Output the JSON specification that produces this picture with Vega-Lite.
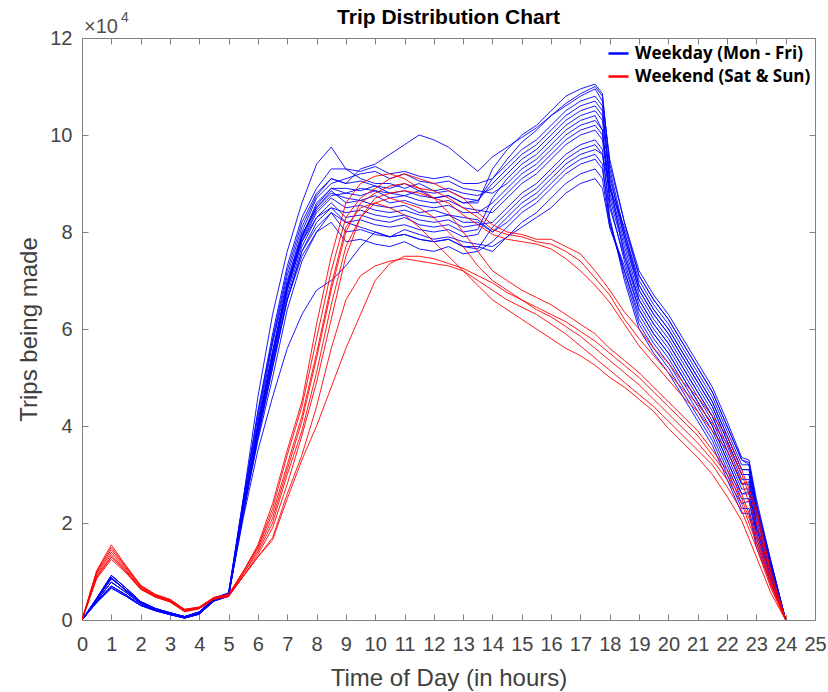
{
"$schema": "https://vega.github.io/schema/vega-lite/v6.json",
"width": 733, "height": 582,
"autosize": {"type": "none"},
"padding": {"left": 82, "top": 38, "right": 13, "bottom": 72},
"background": "white",
"title": {"text": "Trip Distribution Chart", "font": "Liberation Sans", "fontSize": 21, "fontWeight": "bold", "color": "#000000", "anchor": "middle", "offset": -17},
"config": {
  "view": {"stroke": null},
  "axis": {"grid": false, "labelFont": "Liberation Sans", "labelFontSize": 20, "labelColor": "#444444", "titleFont": "Liberation Sans", "titleFontSize": 24, "titleFontWeight": "normal", "titleColor": "#404040", "domainColor": "#808080", "tickColor": "#808080", "tickSize": -6, "domainWidth": 1, "tickWidth": 1, "labelOverlap": false, "labelFlush": false}
},
"datasets": {
"wd": [
{"s":1,"t":0,"v":0},{"s":1,"t":0.5,"v":4300},{"s":1,"t":1,"v":8500},{"s":1,"t":1.5,"v":6200},{"s":1,"t":2,"v":3600},{"s":1,"t":2.5,"v":2300},{"s":1,"t":3,"v":1400},{"s":1,"t":3.5,"v":600},{"s":1,"t":4,"v":1500},{"s":1,"t":4.5,"v":4300},{"s":1,"t":5,"v":5300},{"s":1,"t":5.5,"v":24000},{"s":1,"t":6,"v":43000},{"s":1,"t":6.5,"v":58000},{"s":1,"t":7,"v":72000},{"s":1,"t":7.5,"v":82000},{"s":1,"t":8,"v":88000},{"s":1,"t":8.5,"v":91000},{"s":1,"t":9,"v":90000},{"s":1,"t":9.5,"v":93000},{"s":1,"t":10,"v":94000},{"s":1,"t":10.5,"v":96000},{"s":1,"t":11,"v":98000},{"s":1,"t":11.5,"v":100000},{"s":1,"t":12,"v":99000},{"s":1,"t":12.5,"v":97500},{"s":1,"t":13,"v":95000},{"s":1,"t":13.5,"v":92500},{"s":1,"t":14,"v":95500},{"s":1,"t":14.5,"v":97500},{"s":1,"t":15,"v":99500},{"s":1,"t":15.5,"v":101500},{"s":1,"t":16,"v":104000},{"s":1,"t":16.5,"v":106000},{"s":1,"t":17,"v":108000},{"s":1,"t":17.5,"v":109500},{"s":1,"t":17.75,"v":107000},{"s":1,"t":18,"v":95000},{"s":1,"t":18.5,"v":82000},{"s":1,"t":19,"v":71000},{"s":1,"t":19.5,"v":66000},{"s":1,"t":20,"v":62000},{"s":1,"t":20.5,"v":57000},{"s":1,"t":21,"v":52000},{"s":1,"t":21.5,"v":47000},{"s":1,"t":22,"v":40000},{"s":1,"t":22.5,"v":33000},{"s":1,"t":22.75,"v":32500},{"s":1,"t":23,"v":24000},{"s":1,"t":23.5,"v":12000},{"s":1,"t":24,"v":0},
{"s":2,"t":0,"v":0},{"s":2,"t":0.5,"v":4000},{"s":2,"t":1,"v":7800},{"s":2,"t":1.5,"v":5700},{"s":2,"t":2,"v":3400},{"s":2,"t":2.5,"v":2100},{"s":2,"t":3,"v":1300},{"s":2,"t":3.5,"v":500},{"s":2,"t":4,"v":1400},{"s":2,"t":4.5,"v":4100},{"s":2,"t":5,"v":5100},{"s":2,"t":5.5,"v":22000},{"s":2,"t":6,"v":39000},{"s":2,"t":6.5,"v":54000},{"s":2,"t":7,"v":68000},{"s":2,"t":7.5,"v":78000},{"s":2,"t":8,"v":83000},{"s":2,"t":8.5,"v":85000},{"s":2,"t":9,"v":82000},{"s":2,"t":9.5,"v":81000},{"s":2,"t":10,"v":80000},{"s":2,"t":10.5,"v":79000},{"s":2,"t":11,"v":80500},{"s":2,"t":11.5,"v":79500},{"s":2,"t":12,"v":78500},{"s":2,"t":12.5,"v":79000},{"s":2,"t":13,"v":78000},{"s":2,"t":13.5,"v":77500},{"s":2,"t":14,"v":77000},{"s":2,"t":14.5,"v":79000},{"s":2,"t":15,"v":81000},{"s":2,"t":15.5,"v":83000},{"s":2,"t":16,"v":85000},{"s":2,"t":16.5,"v":88000},{"s":2,"t":17,"v":90000},{"s":2,"t":17.5,"v":91000},{"s":2,"t":17.75,"v":89000},{"s":2,"t":18,"v":81000},{"s":2,"t":18.5,"v":72000},{"s":2,"t":19,"v":63000},{"s":2,"t":19.5,"v":58000},{"s":2,"t":20,"v":54000},{"s":2,"t":20.5,"v":49000},{"s":2,"t":21,"v":44000},{"s":2,"t":21.5,"v":39000},{"s":2,"t":22,"v":32000},{"s":2,"t":22.5,"v":25000},{"s":2,"t":22.75,"v":25000},{"s":2,"t":23,"v":18000},{"s":2,"t":23.5,"v":9000},{"s":2,"t":24,"v":0},
{"s":3,"t":0,"v":0},{"s":3,"t":0.5,"v":4500},{"s":3,"t":1,"v":9200},{"s":3,"t":1.5,"v":6600},{"s":3,"t":2,"v":3800},{"s":3,"t":2.5,"v":2400},{"s":3,"t":3,"v":1500},{"s":3,"t":3.5,"v":700},{"s":3,"t":4,"v":1600},{"s":3,"t":4.5,"v":4400},{"s":3,"t":5,"v":5400},{"s":3,"t":5.5,"v":25000},{"s":3,"t":6,"v":46000},{"s":3,"t":6.5,"v":63000},{"s":3,"t":7,"v":76000},{"s":3,"t":7.5,"v":86000},{"s":3,"t":8,"v":94000},{"s":3,"t":8.5,"v":97500},{"s":3,"t":9,"v":93000},{"s":3,"t":9.5,"v":91000},{"s":3,"t":10,"v":90000},{"s":3,"t":10.5,"v":90000},{"s":3,"t":11,"v":89000},{"s":3,"t":11.5,"v":90000},{"s":3,"t":12,"v":88500},{"s":3,"t":12.5,"v":89000},{"s":3,"t":13,"v":88000},{"s":3,"t":13.5,"v":87500},{"s":3,"t":14,"v":89000},{"s":3,"t":14.5,"v":92000},{"s":3,"t":15,"v":95000},{"s":3,"t":15.5,"v":97000},{"s":3,"t":16,"v":100000},{"s":3,"t":16.5,"v":103000},{"s":3,"t":17,"v":105000},{"s":3,"t":17.5,"v":106000},{"s":3,"t":17.75,"v":104000},{"s":3,"t":18,"v":92000},{"s":3,"t":18.5,"v":79000},{"s":3,"t":19,"v":68000},{"s":3,"t":19.5,"v":63000},{"s":3,"t":20,"v":59000},{"s":3,"t":20.5,"v":54000},{"s":3,"t":21,"v":49000},{"s":3,"t":21.5,"v":44000},{"s":3,"t":22,"v":37000},{"s":3,"t":22.5,"v":30000},{"s":3,"t":22.75,"v":30000},{"s":3,"t":23,"v":22000},{"s":3,"t":23.5,"v":11000},{"s":3,"t":24,"v":0},
{"s":4,"t":0,"v":0},{"s":4,"t":0.5,"v":3800},{"s":4,"t":1,"v":7000},{"s":4,"t":1.5,"v":5200},{"s":4,"t":2,"v":3100},{"s":4,"t":2.5,"v":2000},{"s":4,"t":3,"v":1200},{"s":4,"t":3.5,"v":400},{"s":4,"t":4,"v":1300},{"s":4,"t":4.5,"v":4000},{"s":4,"t":5,"v":5000},{"s":4,"t":5.5,"v":21000},{"s":4,"t":6,"v":35000},{"s":4,"t":6.5,"v":46000},{"s":4,"t":7,"v":56000},{"s":4,"t":7.5,"v":63000},{"s":4,"t":8,"v":68000},{"s":4,"t":8.5,"v":70000},{"s":4,"t":9,"v":73000},{"s":4,"t":9.5,"v":77000},{"s":4,"t":10,"v":80000},{"s":4,"t":10.5,"v":79000},{"s":4,"t":11,"v":79500},{"s":4,"t":11.5,"v":78500},{"s":4,"t":12,"v":78000},{"s":4,"t":12.5,"v":78500},{"s":4,"t":13,"v":77000},{"s":4,"t":13.5,"v":76500},{"s":4,"t":14,"v":81000},{"s":4,"t":14.5,"v":84000},{"s":4,"t":15,"v":87000},{"s":4,"t":15.5,"v":89000},{"s":4,"t":16,"v":92000},{"s":4,"t":16.5,"v":95000},{"s":4,"t":17,"v":97000},{"s":4,"t":17.5,"v":98000},{"s":4,"t":17.75,"v":96000},{"s":4,"t":18,"v":85000},{"s":4,"t":18.5,"v":75000},{"s":4,"t":19,"v":66000},{"s":4,"t":19.5,"v":61000},{"s":4,"t":20,"v":57000},{"s":4,"t":20.5,"v":52000},{"s":4,"t":21,"v":47000},{"s":4,"t":21.5,"v":42000},{"s":4,"t":22,"v":35000},{"s":4,"t":22.5,"v":28000},{"s":4,"t":22.75,"v":28000},{"s":4,"t":23,"v":20000},{"s":4,"t":23.5,"v":10000},{"s":4,"t":24,"v":0},
{"s":5,"t":0,"v":0},{"s":5,"t":0.5,"v":4300},{"s":5,"t":1,"v":8500},{"s":5,"t":1.5,"v":6200},{"s":5,"t":2,"v":3600},{"s":5,"t":2.5,"v":2300},{"s":5,"t":3,"v":1400},{"s":5,"t":3.5,"v":600},{"s":5,"t":4,"v":1500},{"s":5,"t":4.5,"v":4300},{"s":5,"t":5,"v":5300},{"s":5,"t":5.5,"v":23000},{"s":5,"t":6,"v":40000},{"s":5,"t":6.5,"v":55000},{"s":5,"t":7,"v":69000},{"s":5,"t":7.5,"v":79000},{"s":5,"t":8,"v":85500},{"s":5,"t":8.5,"v":89000},{"s":5,"t":9,"v":88000},{"s":5,"t":9.5,"v":89000},{"s":5,"t":10,"v":88500},{"s":5,"t":10.5,"v":88000},{"s":5,"t":11,"v":87500},{"s":5,"t":11.5,"v":88500},{"s":5,"t":12,"v":87000},{"s":5,"t":12.5,"v":87500},{"s":5,"t":13,"v":86000},{"s":5,"t":13.5,"v":86500},{"s":5,"t":14,"v":91000},{"s":5,"t":14.5,"v":95000},{"s":5,"t":15,"v":98500},{"s":5,"t":15.5,"v":101000},{"s":5,"t":16,"v":104000},{"s":5,"t":16.5,"v":106500},{"s":5,"t":17,"v":108500},{"s":5,"t":17.5,"v":110000},{"s":5,"t":17.75,"v":108000},{"s":5,"t":18,"v":94000},{"s":5,"t":18.5,"v":82000},{"s":5,"t":19,"v":72000},{"s":5,"t":19.5,"v":67000},{"s":5,"t":20,"v":63000},{"s":5,"t":20.5,"v":58000},{"s":5,"t":21,"v":53000},{"s":5,"t":21.5,"v":48000},{"s":5,"t":22,"v":41000},{"s":5,"t":22.5,"v":33500},{"s":5,"t":22.75,"v":33000},{"s":5,"t":23,"v":25000},{"s":5,"t":23.5,"v":12000},{"s":5,"t":24,"v":0},
{"s":6,"t":0,"v":0},{"s":6,"t":0.5,"v":4500},{"s":6,"t":1,"v":9200},{"s":6,"t":1.5,"v":6600},{"s":6,"t":2,"v":3800},{"s":6,"t":2.5,"v":2400},{"s":6,"t":3,"v":1500},{"s":6,"t":3.5,"v":700},{"s":6,"t":4,"v":1600},{"s":6,"t":4.5,"v":4400},{"s":6,"t":5,"v":5400},{"s":6,"t":5.5,"v":23500},{"s":6,"t":6,"v":41000},{"s":6,"t":6.5,"v":57000},{"s":6,"t":7,"v":70000},{"s":6,"t":7.5,"v":80000},{"s":6,"t":8,"v":87000},{"s":6,"t":8.5,"v":90000},{"s":6,"t":9,"v":91000},{"s":6,"t":9.5,"v":92000},{"s":6,"t":10,"v":92500},{"s":6,"t":10.5,"v":91000},{"s":6,"t":11,"v":92000},{"s":6,"t":11.5,"v":90500},{"s":6,"t":12,"v":90000},{"s":6,"t":12.5,"v":90500},{"s":6,"t":13,"v":89000},{"s":6,"t":13.5,"v":88500},{"s":6,"t":14,"v":88000},{"s":6,"t":14.5,"v":90000},{"s":6,"t":15,"v":93000},{"s":6,"t":15.5,"v":95000},{"s":6,"t":16,"v":98000},{"s":6,"t":16.5,"v":101000},{"s":6,"t":17,"v":103000},{"s":6,"t":17.5,"v":104000},{"s":6,"t":17.75,"v":101000},{"s":6,"t":18,"v":86000},{"s":6,"t":18.5,"v":74000},{"s":6,"t":19,"v":64000},{"s":6,"t":19.5,"v":59000},{"s":6,"t":20,"v":55000},{"s":6,"t":20.5,"v":50000},{"s":6,"t":21,"v":45000},{"s":6,"t":21.5,"v":40000},{"s":6,"t":22,"v":33000},{"s":6,"t":22.5,"v":26000},{"s":6,"t":22.75,"v":26500},{"s":6,"t":23,"v":19000},{"s":6,"t":23.5,"v":9500},{"s":6,"t":24,"v":0},
{"s":7,"t":0,"v":0},{"s":7,"t":0.5,"v":4000},{"s":7,"t":1,"v":7800},{"s":7,"t":1.5,"v":5700},{"s":7,"t":2,"v":3400},{"s":7,"t":2.5,"v":2100},{"s":7,"t":3,"v":1300},{"s":7,"t":3.5,"v":500},{"s":7,"t":4,"v":1400},{"s":7,"t":4.5,"v":4100},{"s":7,"t":5,"v":5100},{"s":7,"t":5.5,"v":22500},{"s":7,"t":6,"v":38000},{"s":7,"t":6.5,"v":53000},{"s":7,"t":7,"v":67000},{"s":7,"t":7.5,"v":77000},{"s":7,"t":8,"v":83000},{"s":7,"t":8.5,"v":86000},{"s":7,"t":9,"v":83000},{"s":7,"t":9.5,"v":83500},{"s":7,"t":10,"v":82500},{"s":7,"t":10.5,"v":82000},{"s":7,"t":11,"v":83000},{"s":7,"t":11.5,"v":81500},{"s":7,"t":12,"v":81000},{"s":7,"t":12.5,"v":81500},{"s":7,"t":13,"v":80000},{"s":7,"t":13.5,"v":80500},{"s":7,"t":14,"v":87000},{"s":7,"t":14.5,"v":91000},{"s":7,"t":15,"v":94000},{"s":7,"t":15.5,"v":96000},{"s":7,"t":16,"v":99000},{"s":7,"t":16.5,"v":102000},{"s":7,"t":17,"v":104000},{"s":7,"t":17.5,"v":105000},{"s":7,"t":17.75,"v":103000},{"s":7,"t":18,"v":90000},{"s":7,"t":18.5,"v":79000},{"s":7,"t":19,"v":69000},{"s":7,"t":19.5,"v":64000},{"s":7,"t":20,"v":60000},{"s":7,"t":20.5,"v":55000},{"s":7,"t":21,"v":50000},{"s":7,"t":21.5,"v":45000},{"s":7,"t":22,"v":38000},{"s":7,"t":22.5,"v":31000},{"s":7,"t":22.75,"v":31000},{"s":7,"t":23,"v":23000},{"s":7,"t":23.5,"v":11000},{"s":7,"t":24,"v":0},
{"s":8,"t":0,"v":0},{"s":8,"t":0.5,"v":3600},{"s":8,"t":1,"v":6600},{"s":8,"t":1.5,"v":4900},{"s":8,"t":2,"v":3000},{"s":8,"t":2.5,"v":1900},{"s":8,"t":3,"v":1100},{"s":8,"t":3.5,"v":400},{"s":8,"t":4,"v":1200},{"s":8,"t":4.5,"v":3900},{"s":8,"t":5,"v":4900},{"s":8,"t":5.5,"v":23000},{"s":8,"t":6,"v":40500},{"s":8,"t":6.5,"v":55500},{"s":8,"t":7,"v":69500},{"s":8,"t":7.5,"v":79500},{"s":8,"t":8,"v":85000},{"s":8,"t":8.5,"v":88500},{"s":8,"t":9,"v":86000},{"s":8,"t":9.5,"v":86500},{"s":8,"t":10,"v":85500},{"s":8,"t":10.5,"v":85000},{"s":8,"t":11,"v":85500},{"s":8,"t":11.5,"v":84000},{"s":8,"t":12,"v":84500},{"s":8,"t":12.5,"v":83500},{"s":8,"t":13,"v":83000},{"s":8,"t":13.5,"v":82500},{"s":8,"t":14,"v":80000},{"s":8,"t":14.5,"v":82000},{"s":8,"t":15,"v":85000},{"s":8,"t":15.5,"v":87000},{"s":8,"t":16,"v":90000},{"s":8,"t":16.5,"v":93000},{"s":8,"t":17,"v":95000},{"s":8,"t":17.5,"v":96000},{"s":8,"t":17.75,"v":94000},{"s":8,"t":18,"v":82000},{"s":8,"t":18.5,"v":71000},{"s":8,"t":19,"v":61000},{"s":8,"t":19.5,"v":56000},{"s":8,"t":20,"v":52000},{"s":8,"t":20.5,"v":47000},{"s":8,"t":21,"v":42000},{"s":8,"t":21.5,"v":37000},{"s":8,"t":22,"v":30000},{"s":8,"t":22.5,"v":23000},{"s":8,"t":22.75,"v":23000},{"s":8,"t":23,"v":16000},{"s":8,"t":23.5,"v":8000},{"s":8,"t":24,"v":0},
{"s":9,"t":0,"v":0},{"s":9,"t":0.5,"v":4300},{"s":9,"t":1,"v":8500},{"s":9,"t":1.5,"v":6200},{"s":9,"t":2,"v":3600},{"s":9,"t":2.5,"v":2300},{"s":9,"t":3,"v":1400},{"s":9,"t":3.5,"v":600},{"s":9,"t":4,"v":1500},{"s":9,"t":4.5,"v":4300},{"s":9,"t":5,"v":5300},{"s":9,"t":5.5,"v":22000},{"s":9,"t":6,"v":39500},{"s":9,"t":6.5,"v":54000},{"s":9,"t":7,"v":68500},{"s":9,"t":7.5,"v":78500},{"s":9,"t":8,"v":84500},{"s":9,"t":8.5,"v":87500},{"s":9,"t":9,"v":88000},{"s":9,"t":9.5,"v":87500},{"s":9,"t":10,"v":88500},{"s":9,"t":10.5,"v":87000},{"s":9,"t":11,"v":87500},{"s":9,"t":11.5,"v":86500},{"s":9,"t":12,"v":86000},{"s":9,"t":12.5,"v":86500},{"s":9,"t":13,"v":85000},{"s":9,"t":13.5,"v":84500},{"s":9,"t":14,"v":84000},{"s":9,"t":14.5,"v":87000},{"s":9,"t":15,"v":90000},{"s":9,"t":15.5,"v":92000},{"s":9,"t":16,"v":95000},{"s":9,"t":16.5,"v":98000},{"s":9,"t":17,"v":100000},{"s":9,"t":17.5,"v":101000},{"s":9,"t":17.75,"v":99000},{"s":9,"t":18,"v":87000},{"s":9,"t":18.5,"v":76000},{"s":9,"t":19,"v":66000},{"s":9,"t":19.5,"v":61000},{"s":9,"t":20,"v":57000},{"s":9,"t":20.5,"v":52000},{"s":9,"t":21,"v":47000},{"s":9,"t":21.5,"v":42000},{"s":9,"t":22,"v":35000},{"s":9,"t":22.5,"v":28000},{"s":9,"t":22.75,"v":28500},{"s":9,"t":23,"v":20000},{"s":9,"t":23.5,"v":10000},{"s":9,"t":24,"v":0},
{"s":10,"t":0,"v":0},{"s":10,"t":0.5,"v":3800},{"s":10,"t":1,"v":7000},{"s":10,"t":1.5,"v":5200},{"s":10,"t":2,"v":3100},{"s":10,"t":2.5,"v":2000},{"s":10,"t":3,"v":1200},{"s":10,"t":3.5,"v":400},{"s":10,"t":4,"v":1300},{"s":10,"t":4.5,"v":4000},{"s":10,"t":5,"v":5000},{"s":10,"t":5.5,"v":23000},{"s":10,"t":6,"v":39000},{"s":10,"t":6.5,"v":53000},{"s":10,"t":7,"v":66000},{"s":10,"t":7.5,"v":75000},{"s":10,"t":8,"v":80000},{"s":10,"t":8.5,"v":82000},{"s":10,"t":9,"v":78000},{"s":10,"t":9.5,"v":78500},{"s":10,"t":10,"v":77500},{"s":10,"t":10.5,"v":77000},{"s":10,"t":11,"v":78000},{"s":10,"t":11.5,"v":76500},{"s":10,"t":12,"v":76000},{"s":10,"t":12.5,"v":77000},{"s":10,"t":13,"v":75500},{"s":10,"t":13.5,"v":76000},{"s":10,"t":14,"v":78000},{"s":10,"t":14.5,"v":81000},{"s":10,"t":15,"v":84000},{"s":10,"t":15.5,"v":86000},{"s":10,"t":16,"v":89000},{"s":10,"t":16.5,"v":92000},{"s":10,"t":17,"v":94000},{"s":10,"t":17.5,"v":95000},{"s":10,"t":17.75,"v":93000},{"s":10,"t":18,"v":82000},{"s":10,"t":18.5,"v":72000},{"s":10,"t":19,"v":62000},{"s":10,"t":19.5,"v":57000},{"s":10,"t":20,"v":53000},{"s":10,"t":20.5,"v":48000},{"s":10,"t":21,"v":43000},{"s":10,"t":21.5,"v":38000},{"s":10,"t":22,"v":31000},{"s":10,"t":22.5,"v":24000},{"s":10,"t":22.75,"v":24500},{"s":10,"t":23,"v":17000},{"s":10,"t":23.5,"v":8500},{"s":10,"t":24,"v":0},
{"s":11,"t":0,"v":0},{"s":11,"t":0.5,"v":4400},{"s":11,"t":1,"v":8800},{"s":11,"t":1.5,"v":6000},{"s":11,"t":2,"v":3700},{"s":11,"t":2.5,"v":2200},{"s":11,"t":3,"v":1500},{"s":11,"t":3.5,"v":700},{"s":11,"t":4,"v":1700},{"s":11,"t":4.5,"v":4500},{"s":11,"t":5,"v":5600},{"s":11,"t":5.5,"v":24500},{"s":11,"t":6,"v":42000},{"s":11,"t":6.5,"v":57500},{"s":11,"t":7,"v":71000},{"s":11,"t":7.5,"v":81000},{"s":11,"t":8,"v":87500},{"s":11,"t":8.5,"v":91000},{"s":11,"t":9,"v":90000},{"s":11,"t":9.5,"v":90500},{"s":11,"t":10,"v":89500},{"s":11,"t":10.5,"v":89000},{"s":11,"t":11,"v":90000},{"s":11,"t":11.5,"v":88500},{"s":11,"t":12,"v":88000},{"s":11,"t":12.5,"v":88500},{"s":11,"t":13,"v":87000},{"s":11,"t":13.5,"v":86500},{"s":11,"t":14,"v":90000},{"s":11,"t":14.5,"v":93000},{"s":11,"t":15,"v":96000},{"s":11,"t":15.5,"v":98000},{"s":11,"t":16,"v":101000},{"s":11,"t":16.5,"v":104000},{"s":11,"t":17,"v":106000},{"s":11,"t":17.5,"v":107000},{"s":11,"t":17.75,"v":105000},{"s":11,"t":18,"v":91000},{"s":11,"t":18.5,"v":80000},{"s":11,"t":19,"v":70000},{"s":11,"t":19.5,"v":65000},{"s":11,"t":20,"v":61000},{"s":11,"t":20.5,"v":56000},{"s":11,"t":21,"v":51000},{"s":11,"t":21.5,"v":46000},{"s":11,"t":22,"v":39000},{"s":11,"t":22.5,"v":32000},{"s":11,"t":22.75,"v":32000},{"s":11,"t":23,"v":23500},{"s":11,"t":23.5,"v":11500},{"s":11,"t":24,"v":0},
{"s":12,"t":0,"v":0},{"s":12,"t":0.5,"v":3600},{"s":12,"t":1,"v":6600},{"s":12,"t":1.5,"v":4900},{"s":12,"t":2,"v":3000},{"s":12,"t":2.5,"v":1900},{"s":12,"t":3,"v":1100},{"s":12,"t":3.5,"v":400},{"s":12,"t":4,"v":1200},{"s":12,"t":4.5,"v":3900},{"s":12,"t":5,"v":4900},{"s":12,"t":5.5,"v":22000},{"s":12,"t":6,"v":37500},{"s":12,"t":6.5,"v":52000},{"s":12,"t":7,"v":66000},{"s":12,"t":7.5,"v":76000},{"s":12,"t":8,"v":82000},{"s":12,"t":8.5,"v":85000},{"s":12,"t":9,"v":84000},{"s":12,"t":9.5,"v":84500},{"s":12,"t":10,"v":83500},{"s":12,"t":10.5,"v":83000},{"s":12,"t":11,"v":83500},{"s":12,"t":11.5,"v":82500},{"s":12,"t":12,"v":82000},{"s":12,"t":12.5,"v":82500},{"s":12,"t":13,"v":81000},{"s":12,"t":13.5,"v":81500},{"s":12,"t":14,"v":82000},{"s":12,"t":14.5,"v":85000},{"s":12,"t":15,"v":88000},{"s":12,"t":15.5,"v":90000},{"s":12,"t":16,"v":93000},{"s":12,"t":16.5,"v":96000},{"s":12,"t":17,"v":98000},{"s":12,"t":17.5,"v":99000},{"s":12,"t":17.75,"v":97000},{"s":12,"t":18,"v":83000},{"s":12,"t":18.5,"v":70000},{"s":12,"t":19,"v":60000},{"s":12,"t":19.5,"v":55000},{"s":12,"t":20,"v":51000},{"s":12,"t":20.5,"v":46000},{"s":12,"t":21,"v":41000},{"s":12,"t":21.5,"v":36000},{"s":12,"t":22,"v":29000},{"s":12,"t":22.5,"v":22000},{"s":12,"t":22.75,"v":22000},{"s":12,"t":23,"v":15000},{"s":12,"t":23.5,"v":7500},{"s":12,"t":24,"v":0},
{"s":13,"t":0,"v":0},{"s":13,"t":0.5,"v":4000},{"s":13,"t":1,"v":7800},{"s":13,"t":1.5,"v":5700},{"s":13,"t":2,"v":3400},{"s":13,"t":2.5,"v":2100},{"s":13,"t":3,"v":1300},{"s":13,"t":3.5,"v":500},{"s":13,"t":4,"v":1400},{"s":13,"t":4.5,"v":4100},{"s":13,"t":5,"v":5100},{"s":13,"t":5.5,"v":23000},{"s":13,"t":6,"v":40000},{"s":13,"t":6.5,"v":55000},{"s":13,"t":7,"v":69000},{"s":13,"t":7.5,"v":79000},{"s":13,"t":8,"v":85000},{"s":13,"t":8.5,"v":88000},{"s":13,"t":9,"v":87000},{"s":13,"t":9.5,"v":86500},{"s":13,"t":10,"v":87500},{"s":13,"t":10.5,"v":86000},{"s":13,"t":11,"v":86500},{"s":13,"t":11.5,"v":85500},{"s":13,"t":12,"v":85000},{"s":13,"t":12.5,"v":85500},{"s":13,"t":13,"v":84000},{"s":13,"t":13.5,"v":84000},{"s":13,"t":14,"v":86000},{"s":13,"t":14.5,"v":89000},{"s":13,"t":15,"v":92000},{"s":13,"t":15.5,"v":94000},{"s":13,"t":16,"v":97000},{"s":13,"t":16.5,"v":100000},{"s":13,"t":17,"v":102000},{"s":13,"t":17.5,"v":103000},{"s":13,"t":17.75,"v":101000},{"s":13,"t":18,"v":88000},{"s":13,"t":18.5,"v":77000},{"s":13,"t":19,"v":67000},{"s":13,"t":19.5,"v":62000},{"s":13,"t":20,"v":58000},{"s":13,"t":20.5,"v":53000},{"s":13,"t":21,"v":48000},{"s":13,"t":21.5,"v":43000},{"s":13,"t":22,"v":36000},{"s":13,"t":22.5,"v":29000},{"s":13,"t":22.75,"v":29000},{"s":13,"t":23,"v":21000},{"s":13,"t":23.5,"v":10500},{"s":13,"t":24,"v":0},
{"s":14,"t":0,"v":0},{"s":14,"t":0.5,"v":4500},{"s":14,"t":1,"v":9200},{"s":14,"t":1.5,"v":6600},{"s":14,"t":2,"v":3800},{"s":14,"t":2.5,"v":2400},{"s":14,"t":3,"v":1500},{"s":14,"t":3.5,"v":700},{"s":14,"t":4,"v":1600},{"s":14,"t":4.5,"v":4400},{"s":14,"t":5,"v":5400},{"s":14,"t":5.5,"v":22000},{"s":14,"t":6,"v":37000},{"s":14,"t":6.5,"v":50000},{"s":14,"t":7,"v":64000},{"s":14,"t":7.5,"v":74000},{"s":14,"t":8,"v":80000},{"s":14,"t":8.5,"v":84000},{"s":14,"t":9,"v":82000},{"s":14,"t":9.5,"v":82500},{"s":14,"t":10,"v":81500},{"s":14,"t":10.5,"v":81000},{"s":14,"t":11,"v":81500},{"s":14,"t":11.5,"v":80500},{"s":14,"t":12,"v":80000},{"s":14,"t":12.5,"v":80500},{"s":14,"t":13,"v":79000},{"s":14,"t":13.5,"v":79500},{"s":14,"t":14,"v":85000},{"s":14,"t":14.5,"v":88000},{"s":14,"t":15,"v":91000},{"s":14,"t":15.5,"v":93000},{"s":14,"t":16,"v":96000},{"s":14,"t":16.5,"v":99000},{"s":14,"t":17,"v":101000},{"s":14,"t":17.5,"v":102000},{"s":14,"t":17.75,"v":100000},{"s":14,"t":18,"v":89000},{"s":14,"t":18.5,"v":78000},{"s":14,"t":19,"v":68000},{"s":14,"t":19.5,"v":63000},{"s":14,"t":20,"v":59000},{"s":14,"t":20.5,"v":54000},{"s":14,"t":21,"v":49000},{"s":14,"t":21.5,"v":44000},{"s":14,"t":22,"v":37000},{"s":14,"t":22.5,"v":30000},{"s":14,"t":22.75,"v":30000},{"s":14,"t":23,"v":22000},{"s":14,"t":23.5,"v":11000},{"s":14,"t":24,"v":0},
{"s":15,"t":0,"v":0},{"s":15,"t":0.5,"v":4400},{"s":15,"t":1,"v":8800},{"s":15,"t":1.5,"v":6000},{"s":15,"t":2,"v":3700},{"s":15,"t":2.5,"v":2200},{"s":15,"t":3,"v":1500},{"s":15,"t":3.5,"v":700},{"s":15,"t":4,"v":1700},{"s":15,"t":4.5,"v":4500},{"s":15,"t":5,"v":5600},{"s":15,"t":5.5,"v":25000},{"s":15,"t":6,"v":43000},{"s":15,"t":6.5,"v":59000},{"s":15,"t":7,"v":73000},{"s":15,"t":7.5,"v":83000},{"s":15,"t":8,"v":89000},{"s":15,"t":8.5,"v":93000},{"s":15,"t":9,"v":93000},{"s":15,"t":9.5,"v":92500},{"s":15,"t":10,"v":93500},{"s":15,"t":10.5,"v":92000},{"s":15,"t":11,"v":92500},{"s":15,"t":11.5,"v":91500},{"s":15,"t":12,"v":91000},{"s":15,"t":12.5,"v":91500},{"s":15,"t":13,"v":90000},{"s":15,"t":13.5,"v":90000},{"s":15,"t":14,"v":91000},{"s":15,"t":14.5,"v":94000},{"s":15,"t":15,"v":97000},{"s":15,"t":15.5,"v":99000},{"s":15,"t":16,"v":102000},{"s":15,"t":16.5,"v":105000},{"s":15,"t":17,"v":107000},{"s":15,"t":17.5,"v":108000},{"s":15,"t":17.75,"v":106000},{"s":15,"t":18,"v":90000},{"s":15,"t":18.5,"v":75000},{"s":15,"t":19,"v":65000},{"s":15,"t":19.5,"v":60000},{"s":15,"t":20,"v":56000},{"s":15,"t":20.5,"v":51000},{"s":15,"t":21,"v":46000},{"s":15,"t":21.5,"v":41000},{"s":15,"t":22,"v":34000},{"s":15,"t":22.5,"v":27000},{"s":15,"t":22.75,"v":27000},{"s":15,"t":23,"v":19000},{"s":15,"t":23.5,"v":9500},{"s":15,"t":24,"v":0},
{"s":16,"t":0,"v":0},{"s":16,"t":0.5,"v":3600},{"s":16,"t":1,"v":6600},{"s":16,"t":1.5,"v":4900},{"s":16,"t":2,"v":3000},{"s":16,"t":2.5,"v":1900},{"s":16,"t":3,"v":1100},{"s":16,"t":3.5,"v":400},{"s":16,"t":4,"v":1200},{"s":16,"t":4.5,"v":3900},{"s":16,"t":5,"v":4900},{"s":16,"t":5.5,"v":22500},{"s":16,"t":6,"v":39000},{"s":16,"t":6.5,"v":54000},{"s":16,"t":7,"v":68000},{"s":16,"t":7.5,"v":78000},{"s":16,"t":8,"v":84000},{"s":16,"t":8.5,"v":87000},{"s":16,"t":9,"v":85000},{"s":16,"t":9.5,"v":85500},{"s":16,"t":10,"v":84500},{"s":16,"t":10.5,"v":84000},{"s":16,"t":11,"v":84500},{"s":16,"t":11.5,"v":83500},{"s":16,"t":12,"v":83000},{"s":16,"t":12.5,"v":83500},{"s":16,"t":13,"v":82000},{"s":16,"t":13.5,"v":82000},{"s":16,"t":14,"v":80000},{"s":16,"t":14.5,"v":83000},{"s":16,"t":15,"v":86000},{"s":16,"t":15.5,"v":88000},{"s":16,"t":16,"v":91000},{"s":16,"t":16.5,"v":94000},{"s":16,"t":17,"v":96000},{"s":16,"t":17.5,"v":97000},{"s":16,"t":17.75,"v":96000},{"s":16,"t":18,"v":89000},{"s":16,"t":18.5,"v":81000},{"s":16,"t":19,"v":71000},{"s":16,"t":19.5,"v":66000},{"s":16,"t":20,"v":62000},{"s":16,"t":20.5,"v":57000},{"s":16,"t":21,"v":52000},{"s":16,"t":21.5,"v":47000},{"s":16,"t":22,"v":40000},{"s":16,"t":22.5,"v":33000},{"s":16,"t":22.75,"v":32000},{"s":16,"t":23,"v":24000},{"s":16,"t":23.5,"v":12000},{"s":16,"t":24,"v":0},
{"s":17,"t":0,"v":0},{"s":17,"t":0.5,"v":4300},{"s":17,"t":1,"v":8500},{"s":17,"t":1.5,"v":6200},{"s":17,"t":2,"v":3600},{"s":17,"t":2.5,"v":2300},{"s":17,"t":3,"v":1400},{"s":17,"t":3.5,"v":600},{"s":17,"t":4,"v":1500},{"s":17,"t":4.5,"v":4300},{"s":17,"t":5,"v":5300},{"s":17,"t":5.5,"v":23000},{"s":17,"t":6,"v":40000},{"s":17,"t":6.5,"v":55000},{"s":17,"t":7,"v":69000},{"s":17,"t":7.5,"v":79000},{"s":17,"t":8,"v":86000},{"s":17,"t":8.5,"v":89000},{"s":17,"t":9,"v":89000},{"s":17,"t":9.5,"v":88500},{"s":17,"t":10,"v":89500},{"s":17,"t":10.5,"v":88000},{"s":17,"t":11,"v":88500},{"s":17,"t":11.5,"v":87500},{"s":17,"t":12,"v":87000},{"s":17,"t":12.5,"v":87500},{"s":17,"t":13,"v":86000},{"s":17,"t":13.5,"v":86000},{"s":17,"t":14,"v":93000},{"s":17,"t":14.5,"v":97000},{"s":17,"t":15,"v":100000},{"s":17,"t":15.5,"v":102000},{"s":17,"t":16,"v":105000},{"s":17,"t":16.5,"v":108000},{"s":17,"t":17,"v":109500},{"s":17,"t":17.5,"v":110500},{"s":17,"t":17.75,"v":108500},{"s":17,"t":18,"v":93000},{"s":17,"t":18.5,"v":80000},{"s":17,"t":19,"v":69000},{"s":17,"t":19.5,"v":64000},{"s":17,"t":20,"v":60000},{"s":17,"t":20.5,"v":55000},{"s":17,"t":21,"v":50000},{"s":17,"t":21.5,"v":45000},{"s":17,"t":22,"v":38000},{"s":17,"t":22.5,"v":31000},{"s":17,"t":22.75,"v":31000},{"s":17,"t":23,"v":23000},{"s":17,"t":23.5,"v":11500},{"s":17,"t":24,"v":0},
{"s":18,"t":0,"v":0},{"s":18,"t":0.5,"v":3800},{"s":18,"t":1,"v":7000},{"s":18,"t":1.5,"v":5200},{"s":18,"t":2,"v":3100},{"s":18,"t":2.5,"v":2000},{"s":18,"t":3,"v":1200},{"s":18,"t":3.5,"v":400},{"s":18,"t":4,"v":1300},{"s":18,"t":4.5,"v":4000},{"s":18,"t":5,"v":5000},{"s":18,"t":5.5,"v":22000},{"s":18,"t":6,"v":38000},{"s":18,"t":6.5,"v":52000},{"s":18,"t":7,"v":66000},{"s":18,"t":7.5,"v":76000},{"s":18,"t":8,"v":81000},{"s":18,"t":8.5,"v":84000},{"s":18,"t":9,"v":80000},{"s":18,"t":9.5,"v":80500},{"s":18,"t":10,"v":79500},{"s":18,"t":10.5,"v":79000},{"s":18,"t":11,"v":79500},{"s":18,"t":11.5,"v":78500},{"s":18,"t":12,"v":78000},{"s":18,"t":12.5,"v":78500},{"s":18,"t":13,"v":77000},{"s":18,"t":13.5,"v":77000},{"s":18,"t":14,"v":76000},{"s":18,"t":14.5,"v":79000},{"s":18,"t":15,"v":82000},{"s":18,"t":15.5,"v":84000},{"s":18,"t":16,"v":87000},{"s":18,"t":16.5,"v":90000},{"s":18,"t":17,"v":92000},{"s":18,"t":17.5,"v":93000},{"s":18,"t":17.75,"v":91000},{"s":18,"t":18,"v":81000},{"s":18,"t":18.5,"v":73000},{"s":18,"t":19,"v":64000},{"s":18,"t":19.5,"v":59000},{"s":18,"t":20,"v":55000},{"s":18,"t":20.5,"v":50000},{"s":18,"t":21,"v":45000},{"s":18,"t":21.5,"v":40000},{"s":18,"t":22,"v":33000},{"s":18,"t":22.5,"v":26000},{"s":18,"t":22.75,"v":26000},{"s":18,"t":23,"v":18000},{"s":18,"t":23.5,"v":9000},{"s":18,"t":24,"v":0}
],
"we": [
{"s":1,"t":0,"v":0},{"s":1,"t":0.5,"v":10000},{"s":1,"t":1,"v":15000},{"s":1,"t":1.5,"v":11000},{"s":1,"t":2,"v":7000},{"s":1,"t":2.5,"v":5200},{"s":1,"t":3,"v":4200},{"s":1,"t":3.5,"v":2200},{"s":1,"t":4,"v":2600},{"s":1,"t":4.5,"v":4600},{"s":1,"t":5,"v":5200},{"s":1,"t":5.5,"v":10000},{"s":1,"t":6,"v":15000},{"s":1,"t":6.5,"v":23000},{"s":1,"t":7,"v":34000},{"s":1,"t":7.5,"v":44000},{"s":1,"t":8,"v":58000},{"s":1,"t":8.5,"v":72000},{"s":1,"t":9,"v":83000},{"s":1,"t":9.5,"v":87000},{"s":1,"t":10,"v":89000},{"s":1,"t":10.5,"v":91000},{"s":1,"t":11,"v":92000},{"s":1,"t":11.5,"v":91000},{"s":1,"t":12,"v":90000},{"s":1,"t":12.5,"v":88500},{"s":1,"t":13,"v":87000},{"s":1,"t":13.5,"v":84000},{"s":1,"t":14,"v":81500},{"s":1,"t":14.5,"v":80000},{"s":1,"t":15,"v":79500},{"s":1,"t":15.5,"v":78500},{"s":1,"t":16,"v":78500},{"s":1,"t":16.5,"v":77000},{"s":1,"t":17,"v":75500},{"s":1,"t":17.5,"v":72000},{"s":1,"t":18,"v":68000},{"s":1,"t":18.5,"v":63500},{"s":1,"t":19,"v":60000},{"s":1,"t":19.5,"v":56000},{"s":1,"t":20,"v":53000},{"s":1,"t":20.5,"v":49000},{"s":1,"t":21,"v":46000},{"s":1,"t":21.5,"v":42000},{"s":1,"t":22,"v":38000},{"s":1,"t":22.5,"v":31000},{"s":1,"t":23,"v":23000},{"s":1,"t":23.5,"v":10000},{"s":1,"t":24,"v":0},
{"s":2,"t":0,"v":0},{"s":2,"t":0.5,"v":9500},{"s":2,"t":1,"v":14000},{"s":2,"t":1.5,"v":10500},{"s":2,"t":2,"v":6800},{"s":2,"t":2.5,"v":5000},{"s":2,"t":3,"v":4000},{"s":2,"t":3.5,"v":2000},{"s":2,"t":4,"v":2500},{"s":2,"t":4.5,"v":4500},{"s":2,"t":5,"v":5000},{"s":2,"t":5.5,"v":9500},{"s":2,"t":6,"v":14500},{"s":2,"t":6.5,"v":21000},{"s":2,"t":7,"v":31000},{"s":2,"t":7.5,"v":41000},{"s":2,"t":8,"v":54000},{"s":2,"t":8.5,"v":68000},{"s":2,"t":9,"v":80000},{"s":2,"t":9.5,"v":86000},{"s":2,"t":10,"v":88000},{"s":2,"t":10.5,"v":89500},{"s":2,"t":11,"v":90000},{"s":2,"t":11.5,"v":89000},{"s":2,"t":12,"v":88500},{"s":2,"t":12.5,"v":87000},{"s":2,"t":13,"v":85000},{"s":2,"t":13.5,"v":83000},{"s":2,"t":14,"v":80500},{"s":2,"t":14.5,"v":79500},{"s":2,"t":15,"v":79000},{"s":2,"t":15.5,"v":78000},{"s":2,"t":16,"v":77500},{"s":2,"t":16.5,"v":76000},{"s":2,"t":17,"v":74000},{"s":2,"t":17.5,"v":70500},{"s":2,"t":18,"v":67000},{"s":2,"t":18.5,"v":62000},{"s":2,"t":19,"v":58000},{"s":2,"t":19.5,"v":54500},{"s":2,"t":20,"v":51000},{"s":2,"t":20.5,"v":47500},{"s":2,"t":21,"v":44500},{"s":2,"t":21.5,"v":40500},{"s":2,"t":22,"v":36500},{"s":2,"t":22.5,"v":30000},{"s":2,"t":23,"v":22000},{"s":2,"t":23.5,"v":9500},{"s":2,"t":24,"v":0},
{"s":3,"t":0,"v":0},{"s":3,"t":0.5,"v":8800},{"s":3,"t":1,"v":13000},{"s":3,"t":1.5,"v":10000},{"s":3,"t":2,"v":6500},{"s":3,"t":2.5,"v":4800},{"s":3,"t":3,"v":3800},{"s":3,"t":3.5,"v":1800},{"s":3,"t":4,"v":2400},{"s":3,"t":4.5,"v":4400},{"s":3,"t":5,"v":5000},{"s":3,"t":5.5,"v":9000},{"s":3,"t":6,"v":13500},{"s":3,"t":6.5,"v":19000},{"s":3,"t":7,"v":28000},{"s":3,"t":7.5,"v":38000},{"s":3,"t":8,"v":49000},{"s":3,"t":8.5,"v":62000},{"s":3,"t":9,"v":75000},{"s":3,"t":9.5,"v":83000},{"s":3,"t":10,"v":87000},{"s":3,"t":10.5,"v":88000},{"s":3,"t":11,"v":88500},{"s":3,"t":11.5,"v":88000},{"s":3,"t":12,"v":87000},{"s":3,"t":12.5,"v":86000},{"s":3,"t":13,"v":83500},{"s":3,"t":13.5,"v":81500},{"s":3,"t":14,"v":79500},{"s":3,"t":14.5,"v":78500},{"s":3,"t":15,"v":78000},{"s":3,"t":15.5,"v":77500},{"s":3,"t":16,"v":76500},{"s":3,"t":16.5,"v":74500},{"s":3,"t":17,"v":72000},{"s":3,"t":17.5,"v":69000},{"s":3,"t":18,"v":65500},{"s":3,"t":18.5,"v":61000},{"s":3,"t":19,"v":56500},{"s":3,"t":19.5,"v":53000},{"s":3,"t":20,"v":49500},{"s":3,"t":20.5,"v":46000},{"s":3,"t":21,"v":43000},{"s":3,"t":21.5,"v":39000},{"s":3,"t":22,"v":35000},{"s":3,"t":22.5,"v":28500},{"s":3,"t":23,"v":20000},{"s":3,"t":23.5,"v":9000},{"s":3,"t":24,"v":0},
{"s":4,"t":0,"v":0},{"s":4,"t":0.5,"v":10200},{"s":4,"t":1,"v":15500},{"s":4,"t":1.5,"v":11200},{"s":4,"t":2,"v":7200},{"s":4,"t":2.5,"v":5300},{"s":4,"t":3,"v":4300},{"s":4,"t":3.5,"v":2200},{"s":4,"t":4,"v":2700},{"s":4,"t":4.5,"v":4700},{"s":4,"t":5,"v":5300},{"s":4,"t":5.5,"v":10000},{"s":4,"t":6,"v":15500},{"s":4,"t":6.5,"v":24000},{"s":4,"t":7,"v":35000},{"s":4,"t":7.5,"v":45000},{"s":4,"t":8,"v":61000},{"s":4,"t":8.5,"v":75000},{"s":4,"t":9,"v":86000},{"s":4,"t":9.5,"v":90000},{"s":4,"t":10,"v":91500},{"s":4,"t":10.5,"v":92000},{"s":4,"t":11,"v":91000},{"s":4,"t":11.5,"v":89000},{"s":4,"t":12,"v":87000},{"s":4,"t":12.5,"v":84000},{"s":4,"t":13,"v":80000},{"s":4,"t":13.5,"v":76000},{"s":4,"t":14,"v":72000},{"s":4,"t":14.5,"v":70000},{"s":4,"t":15,"v":68000},{"s":4,"t":15.5,"v":66500},{"s":4,"t":16,"v":65000},{"s":4,"t":16.5,"v":63000},{"s":4,"t":17,"v":61000},{"s":4,"t":17.5,"v":59000},{"s":4,"t":18,"v":56000},{"s":4,"t":18.5,"v":53500},{"s":4,"t":19,"v":51000},{"s":4,"t":19.5,"v":48000},{"s":4,"t":20,"v":45000},{"s":4,"t":20.5,"v":42000},{"s":4,"t":21,"v":39000},{"s":4,"t":21.5,"v":35000},{"s":4,"t":22,"v":31000},{"s":4,"t":22.5,"v":26000},{"s":4,"t":23,"v":18000},{"s":4,"t":23.5,"v":8000},{"s":4,"t":24,"v":0},
{"s":5,"t":0,"v":0},{"s":5,"t":0.5,"v":9200},{"s":5,"t":1,"v":13500},{"s":5,"t":1.5,"v":10200},{"s":5,"t":2,"v":6600},{"s":5,"t":2.5,"v":4900},{"s":5,"t":3,"v":3900},{"s":5,"t":3.5,"v":1900},{"s":5,"t":4,"v":2400},{"s":5,"t":4.5,"v":4400},{"s":5,"t":5,"v":4900},{"s":5,"t":5.5,"v":9500},{"s":5,"t":6,"v":14000},{"s":5,"t":6.5,"v":20000},{"s":5,"t":7,"v":30000},{"s":5,"t":7.5,"v":39000},{"s":5,"t":8,"v":51000},{"s":5,"t":8.5,"v":65000},{"s":5,"t":9,"v":77000},{"s":5,"t":9.5,"v":83000},{"s":5,"t":10,"v":86000},{"s":5,"t":10.5,"v":87000},{"s":5,"t":11,"v":86000},{"s":5,"t":11.5,"v":85000},{"s":5,"t":12,"v":83000},{"s":5,"t":12.5,"v":80000},{"s":5,"t":13,"v":77000},{"s":5,"t":13.5,"v":73000},{"s":5,"t":14,"v":70000},{"s":5,"t":14.5,"v":68000},{"s":5,"t":15,"v":66000},{"s":5,"t":15.5,"v":64000},{"s":5,"t":16,"v":62500},{"s":5,"t":16.5,"v":60500},{"s":5,"t":17,"v":58500},{"s":5,"t":17.5,"v":56000},{"s":5,"t":18,"v":53500},{"s":5,"t":18.5,"v":51000},{"s":5,"t":19,"v":48500},{"s":5,"t":19.5,"v":45500},{"s":5,"t":20,"v":42500},{"s":5,"t":20.5,"v":39500},{"s":5,"t":21,"v":36500},{"s":5,"t":21.5,"v":33000},{"s":5,"t":22,"v":29000},{"s":5,"t":22.5,"v":24000},{"s":5,"t":23,"v":16000},{"s":5,"t":23.5,"v":7000},{"s":5,"t":24,"v":0},
{"s":6,"t":0,"v":0},{"s":6,"t":0.5,"v":8500},{"s":6,"t":1,"v":12500},{"s":6,"t":1.5,"v":9700},{"s":6,"t":2,"v":6300},{"s":6,"t":2.5,"v":4700},{"s":6,"t":3,"v":3700},{"s":6,"t":3.5,"v":1700},{"s":6,"t":4,"v":2300},{"s":6,"t":4.5,"v":4300},{"s":6,"t":5,"v":4800},{"s":6,"t":5.5,"v":9000},{"s":6,"t":6,"v":13000},{"s":6,"t":6.5,"v":17000},{"s":6,"t":7,"v":26000},{"s":6,"t":7.5,"v":34000},{"s":6,"t":8,"v":44000},{"s":6,"t":8.5,"v":56000},{"s":6,"t":9,"v":66000},{"s":6,"t":9.5,"v":71000},{"s":6,"t":10,"v":73000},{"s":6,"t":10.5,"v":74000},{"s":6,"t":11,"v":74500},{"s":6,"t":11.5,"v":74000},{"s":6,"t":12,"v":73500},{"s":6,"t":12.5,"v":73000},{"s":6,"t":13,"v":72000},{"s":6,"t":13.5,"v":70000},{"s":6,"t":14,"v":68000},{"s":6,"t":14.5,"v":66000},{"s":6,"t":15,"v":64500},{"s":6,"t":15.5,"v":63000},{"s":6,"t":16,"v":61000},{"s":6,"t":16.5,"v":59000},{"s":6,"t":17,"v":56500},{"s":6,"t":17.5,"v":54000},{"s":6,"t":18,"v":51500},{"s":6,"t":18.5,"v":49000},{"s":6,"t":19,"v":46500},{"s":6,"t":19.5,"v":44000},{"s":6,"t":20,"v":41000},{"s":6,"t":20.5,"v":38000},{"s":6,"t":21,"v":35000},{"s":6,"t":21.5,"v":32000},{"s":6,"t":22,"v":27500},{"s":6,"t":22.5,"v":22500},{"s":6,"t":23,"v":15000},{"s":6,"t":23.5,"v":6500},{"s":6,"t":24,"v":0},
{"s":7,"t":0,"v":0},{"s":7,"t":0.5,"v":9800},{"s":7,"t":1,"v":14500},{"s":7,"t":1.5,"v":10800},{"s":7,"t":2,"v":7000},{"s":7,"t":2.5,"v":5100},{"s":7,"t":3,"v":4100},{"s":7,"t":3.5,"v":2100},{"s":7,"t":4,"v":2600},{"s":7,"t":4.5,"v":4600},{"s":7,"t":5,"v":5100},{"s":7,"t":5.5,"v":10000},{"s":7,"t":6,"v":15000},{"s":7,"t":6.5,"v":22000},{"s":7,"t":7,"v":32000},{"s":7,"t":7.5,"v":42000},{"s":7,"t":8,"v":55000},{"s":7,"t":8.5,"v":69000},{"s":7,"t":9,"v":81000},{"s":7,"t":9.5,"v":85000},{"s":7,"t":10,"v":86000},{"s":7,"t":10.5,"v":85000},{"s":7,"t":11,"v":83500},{"s":7,"t":11.5,"v":81000},{"s":7,"t":12,"v":78000},{"s":7,"t":12.5,"v":75000},{"s":7,"t":13,"v":72000},{"s":7,"t":13.5,"v":69000},{"s":7,"t":14,"v":66000},{"s":7,"t":14.5,"v":64000},{"s":7,"t":15,"v":62000},{"s":7,"t":15.5,"v":60000},{"s":7,"t":16,"v":58000},{"s":7,"t":16.5,"v":56000},{"s":7,"t":17,"v":54500},{"s":7,"t":17.5,"v":52500},{"s":7,"t":18,"v":50000},{"s":7,"t":18.5,"v":48000},{"s":7,"t":19,"v":45500},{"s":7,"t":19.5,"v":43000},{"s":7,"t":20,"v":39500},{"s":7,"t":20.5,"v":36500},{"s":7,"t":21,"v":33500},{"s":7,"t":21.5,"v":30000},{"s":7,"t":22,"v":25500},{"s":7,"t":22.5,"v":20500},{"s":7,"t":23,"v":13000},{"s":7,"t":23.5,"v":5500},{"s":7,"t":24,"v":0},
{"s":8,"t":0,"v":0},{"s":8,"t":0.5,"v":8800},{"s":8,"t":1,"v":13000},{"s":8,"t":1.5,"v":10000},{"s":8,"t":2,"v":6400},{"s":8,"t":2.5,"v":4800},{"s":8,"t":3,"v":3800},{"s":8,"t":3.5,"v":1800},{"s":8,"t":4,"v":2400},{"s":8,"t":4.5,"v":4400},{"s":8,"t":5,"v":4900},{"s":8,"t":5.5,"v":9000},{"s":8,"t":6,"v":13000},{"s":8,"t":6.5,"v":16500},{"s":8,"t":7,"v":25000},{"s":8,"t":7.5,"v":33000},{"s":8,"t":8,"v":40000},{"s":8,"t":8.5,"v":48000},{"s":8,"t":9,"v":56000},{"s":8,"t":9.5,"v":63000},{"s":8,"t":10,"v":70000},{"s":8,"t":10.5,"v":73500},{"s":8,"t":11,"v":75000},{"s":8,"t":11.5,"v":75000},{"s":8,"t":12,"v":74500},{"s":8,"t":12.5,"v":73500},{"s":8,"t":13,"v":72500},{"s":8,"t":13.5,"v":71000},{"s":8,"t":14,"v":69500},{"s":8,"t":14.5,"v":67500},{"s":8,"t":15,"v":66000},{"s":8,"t":15.5,"v":64500},{"s":8,"t":16,"v":63000},{"s":8,"t":16.5,"v":61500},{"s":8,"t":17,"v":59500},{"s":8,"t":17.5,"v":57500},{"s":8,"t":18,"v":55000},{"s":8,"t":18.5,"v":52500},{"s":8,"t":19,"v":50000},{"s":8,"t":19.5,"v":47000},{"s":8,"t":20,"v":44000},{"s":8,"t":20.5,"v":41000},{"s":8,"t":21,"v":38000},{"s":8,"t":21.5,"v":34000},{"s":8,"t":22,"v":30000},{"s":8,"t":22.5,"v":25000},{"s":8,"t":23,"v":17000},{"s":8,"t":23.5,"v":7500},{"s":8,"t":24,"v":0}
]
},
"layer": [
{
  "data": {"name": "wd"},
  "mark": {"type": "line", "strokeWidth": 0.9, "clip": true},
  "encoding": {
    "x": {"field": "t", "type": "quantitative", "scale": {"domain": [0, 25], "nice": false, "zero": false},
          "axis": {"orient": "bottom", "values": [0,1,2,3,4,5,6,7,8,9,10,11,12,13,14,15,16,17,18,19,20,21,22,23,24,25], "title": "Time of Day (in hours)", "labelPadding": 20, "titlePadding": 12}},
    "y": {"field": "v", "type": "quantitative", "scale": {"domain": [0, 120000], "nice": false},
          "axis": {"orient": "left", "values": [0,20000,40000,60000,80000,100000,120000], "labelExpr": "datum.value / 10000", "title": "Trips being made", "labelPadding": 16, "titlePadding": 8}},
    "detail": {"field": "s", "type": "nominal"},
    "color": {"datum": "Weekday (Mon - Fri)", "type": "nominal",
      "scale": {"domain": ["Weekday (Mon - Fri)", "Weekend (Sat & Sun)"], "range": ["#0000ff", "#ff0000"]},
      "legend": {"title": null, "orient": "top-right", "offset": 4, "symbolType": "stroke", "symbolSize": 400, "symbolStrokeWidth": 2.5, "labelFont": "Open Sans", "labelFontWeight": "bold", "labelFontSize": 17, "labelColor": "#000000", "labelLimit": 400, "rowPadding": 3, "labelOffset": 5, "padding": 0}}
  }
},
{
  "data": {"name": "we"},
  "mark": {"type": "line", "strokeWidth": 0.9, "clip": true},
  "encoding": {
    "x": {"field": "t", "type": "quantitative", "axis": null},
    "y": {"field": "v", "type": "quantitative", "axis": null},
    "detail": {"field": "s", "type": "nominal"},
    "color": {"datum": "Weekend (Sat & Sun)", "type": "nominal"}
  }
},
{
  "data": {"values": [{"t": 0, "v": 120000}]},
  "mark": {"type": "text", "text": "×10", "align": "left", "baseline": "alphabetic", "dx": 2, "dy": -5, "font": "Liberation Sans", "fontSize": 20, "color": "#505050"},
  "encoding": {
    "x": {"field": "t", "type": "quantitative", "axis": {"orient": "top", "values": [0,1,2,3,4,5,6,7,8,9,10,11,12,13,14,15,16,17,18,19,20,21,22,23,24,25], "labels": false, "title": null}},
    "y": {"field": "v", "type": "quantitative", "axis": {"orient": "right", "values": [0,20000,40000,60000,80000,100000,120000], "labels": false, "title": null}}
  }
},
{
  "data": {"values": [{"t": 0, "v": 120000}]},
  "mark": {"type": "text", "text": "4", "align": "left", "baseline": "alphabetic", "dx": 39, "dy": -16, "font": "Liberation Sans", "fontSize": 14, "color": "#505050"},
  "encoding": {
    "x": {"field": "t", "type": "quantitative", "axis": null},
    "y": {"field": "v", "type": "quantitative", "axis": null}
  }
}
],
"resolve": {"axis": {"x": "independent", "y": "independent"}}
}
